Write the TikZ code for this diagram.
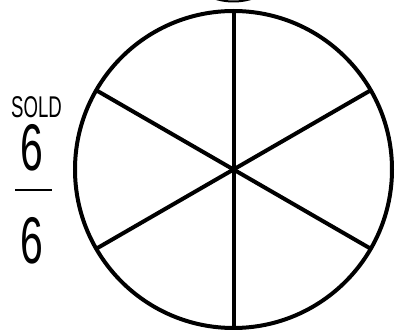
\documentclass[tikz,border=0pt]{standalone}
\usepackage{fontspec}
\setmainfont[FakeStretch=0.62]{Liberation Sans}
\begin{document}
\begin{tikzpicture}[x=1pt,y=-1pt,
  rim/.style={line width=4pt},
  spoke/.style={line width=4pt},
  lbl/.style={inner sep=0pt, anchor=center}]
\useasboundingbox (0,0) rectangle (400,331);
\coordinate (c) at (233.5,169.5);
\begin{scope}
\clip (0,0) rectangle (400,331);
\draw[line width=2pt] (233.5,-60.5) circle (62);
\end{scope}
\draw[rim] (c) circle (158.5);
\path (c) ++(0,-158.5) coordinate (top) (c) ++(0,158.5) coordinate (bot);
\path (c) ++(150:158.5) coordinate (a1) (c) ++(-30:158.5) coordinate (a2);
\path (c) ++(30:158.5) coordinate (b1) (c) ++(210:158.5) coordinate (b2);
\draw[spoke] (top) -- (bot);
\draw[spoke] (a1) -- (a2);
\draw[spoke] (b1) -- (b2);
\node[lbl, font=\fontsize{30}{30}\selectfont] (sold) at (36.5,107) {SOLD};
\node[lbl, font=\fontsize{66}{66}\selectfont] (n1) at (32,147.5) {6};
\node[lbl, font=\fontsize{66}{66}\selectfont] (n2) at (32,241) {6};
\draw[line width=2.5pt] (15,190) -- (52,190);
\end{tikzpicture}
\end{document}
